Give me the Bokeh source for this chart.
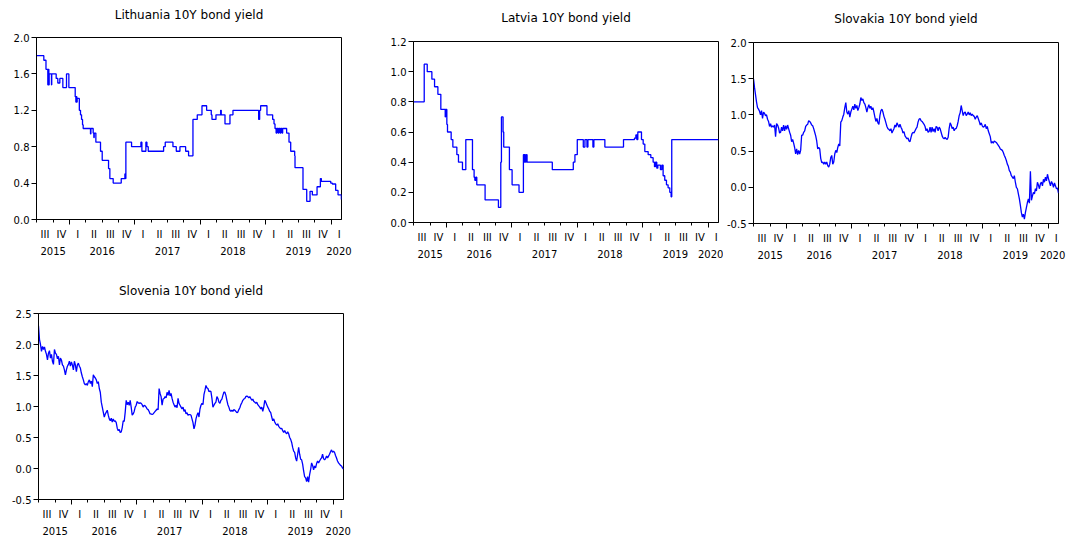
import numpy as np
from bokeh.plotting import figure
from bokeh.layouts import column, row
from bokeh.models import (FixedTicker, LinearAxis, Range1d, NumeralTickFormatter,
                          CustomJSTickFormatter)
from bokeh.embed import file_html
from bokeh.resources import INLINE

FONT = "DejaVu Sans"
X_START, X_END = 2015.495, 2020.16

# ---------------- data (decimal years / yields in %) ----------------
lt_t = [2015.495, 2015.607, 2015.640, 2015.668, 2015.673, 2015.684, 2015.689, 2015.724, 2015.728,
        2015.796, 2015.821, 2015.852, 2015.898, 2015.954, 2015.990, 2016.087, 2016.097, 2016.102,
        2016.112, 2016.117, 2016.150, 2016.168, 2016.184, 2016.199, 2016.209, 2016.321, 2016.327,
        2016.362, 2016.372, 2016.378, 2016.403, 2016.474, 2016.500, 2016.597, 2016.617, 2016.668,
        2016.791, 2016.847, 2016.857, 2016.862, 2016.949, 2017.092, 2017.107, 2017.168, 2017.184,
        2017.204, 2017.439, 2017.464, 2017.582, 2017.633, 2017.689, 2017.776, 2017.821, 2017.888,
        2017.954, 2018.026, 2018.097, 2018.168, 2018.179, 2018.240, 2018.311, 2018.321, 2018.378,
        2018.454, 2018.500, 2018.893, 2018.908, 2018.923, 2019.020, 2019.107, 2019.128, 2019.143,
        2019.160, 2019.170, 2019.190, 2019.200, 2019.220, 2019.230, 2019.250, 2019.260, 2019.321,
        2019.357, 2019.383, 2019.444, 2019.449, 2019.571, 2019.628, 2019.679, 2019.714, 2019.786,
        2019.837, 2019.852, 2019.995, 2020.020, 2020.071, 2020.107, 2020.158]
lt_v = [1.80, 1.75, 1.65, 1.48, 1.65, 1.48, 1.60, 1.48, 1.60,
        1.55, 1.50, 1.55, 1.45, 1.60, 1.45, 1.35, 1.29, 1.35,
        1.29, 1.33, 1.20, 1.15, 1.10, 1.04, 1.00, 0.94, 1.00,
        0.95, 0.90, 0.95, 0.85, 0.75, 0.65, 0.56, 0.45, 0.40,
        0.45, 0.50, 0.45, 0.85, 0.80, 0.85, 0.75, 0.85, 0.80,
        0.75, 0.80, 0.85, 0.80, 0.75, 0.80, 0.75, 0.70, 1.10,
        1.15, 1.25, 1.20, 1.15, 1.10, 1.15, 1.20, 1.15, 1.05,
        1.15, 1.20, 1.10, 1.20, 1.25, 1.15, 1.10, 1.05, 1.00,
        0.95, 1.00, 0.95, 1.00, 0.95, 1.00, 0.95, 1.00, 0.95,
        0.85, 0.75, 0.70, 0.57, 0.33, 0.20, 0.31, 0.27, 0.36,
        0.45, 0.42, 0.40, 0.39, 0.32, 0.27, 0.22]

lv_t = [2015.500, 2015.659, 2015.705, 2015.776, 2015.817, 2015.868, 2015.913, 2015.980, 2015.985,
        2016.005, 2016.015, 2016.071, 2016.097, 2016.158, 2016.183, 2016.244, 2016.295, 2016.397,
        2016.422, 2016.433, 2016.448, 2016.463, 2016.590, 2016.794, 2016.830, 2016.840, 2016.865,
        2016.875, 2016.962, 2017.003, 2017.109, 2017.176, 2017.186, 2017.196, 2017.206, 2017.221,
        2017.232, 2017.618, 2017.939, 2017.964, 2018.000, 2018.092, 2018.117, 2018.148, 2018.163,
        2018.239, 2018.254, 2018.422, 2018.707, 2018.875, 2018.896, 2018.911, 2018.926, 2018.982,
        2019.008, 2019.033, 2019.084, 2019.125, 2019.160, 2019.181, 2019.196, 2019.216, 2019.232,
        2019.257, 2019.272, 2019.293, 2019.313, 2019.338, 2019.364, 2019.389, 2019.415, 2019.435,
        2019.445, 2020.160]
lv_v = [0.80, 1.05, 1.00, 0.95, 0.90, 0.85, 0.75, 0.70, 0.75,
        0.65, 0.60, 0.55, 0.50, 0.45, 0.40, 0.35, 0.55, 0.35,
        0.30, 0.28, 0.30, 0.25, 0.15, 0.10, 0.40, 0.70, 0.60,
        0.50, 0.35, 0.25, 0.20, 0.45, 0.40, 0.45, 0.40, 0.45,
        0.40, 0.35, 0.40, 0.45, 0.55, 0.50, 0.55, 0.50, 0.55,
        0.50, 0.55, 0.50, 0.55, 0.56, 0.58, 0.55, 0.60, 0.55,
        0.52, 0.47, 0.45, 0.43, 0.40, 0.37, 0.40, 0.36, 0.38,
        0.38, 0.35, 0.38, 0.31, 0.28, 0.25, 0.23, 0.20, 0.17,
        0.55, 0.55]

# Slovakia: roughly weekly observations, Jul 2015 - Feb 2020
sk_v = [1.50, 1.38, 1.28, 1.18, 1.10, 1.08, 1.05, 1.00, 1.06, 0.95, 1.04, 1.02, 0.99, 1.00, 0.94,
        0.91, 0.84, 0.88, 0.83, 0.85, 0.83, 0.86, 0.70, 0.88, 0.86, 0.82, 0.75, 0.76, 0.83, 0.78,
        0.86, 0.78, 0.85, 0.80, 0.86, 0.81, 0.76, 0.72, 0.63, 0.66, 0.61, 0.55, 0.46, 0.53, 0.45,
        0.51, 0.46, 0.51, 0.72, 0.72, 0.76, 0.78, 0.84, 0.86, 0.87, 0.92, 0.91, 0.89, 0.86, 0.85,
        0.81, 0.76, 0.71, 0.64, 0.53, 0.55, 0.53, 0.40, 0.34, 0.35, 0.32, 0.35, 0.32, 0.35, 0.30,
        0.28, 0.32, 0.41, 0.44, 0.32, 0.35, 0.46, 0.51, 0.48, 0.55, 0.60, 0.57, 0.90, 0.92, 0.97,
        1.01, 1.10, 1.17, 1.04, 1.01, 1.06, 0.97, 1.04, 1.08, 1.12, 1.07, 1.15, 1.09, 1.13, 1.06,
        1.10, 1.15, 1.24, 1.20, 1.22, 1.17, 1.15, 1.10, 1.04, 1.10, 1.14, 1.09, 1.12, 1.07, 1.10,
        1.04, 0.97, 0.91, 0.95, 0.89, 0.87, 0.99, 1.06, 1.08, 1.04, 0.98, 0.94, 0.89, 0.84, 0.81,
        0.80, 0.78, 0.81, 0.75, 0.78, 0.81, 0.86, 0.83, 0.89, 0.86, 0.83, 0.87, 0.83, 0.80,
        0.75, 0.77, 0.71, 0.69, 0.67, 0.68, 0.64, 0.63, 0.69, 0.74, 0.76, 0.75, 0.78, 0.81, 0.83,
        0.90, 0.94, 0.95, 0.92, 0.91, 0.89, 0.87, 0.84, 0.78, 0.81, 0.76, 0.77, 0.83, 0.76, 0.83,
        0.77, 0.81, 0.76, 0.84, 0.83, 0.78, 0.83, 0.81, 0.76, 0.71, 0.68, 0.67, 0.69, 0.67, 0.66,
        0.69, 0.81, 0.89, 0.86, 0.81, 0.83, 0.78, 0.81, 0.81, 0.85, 0.91, 0.99, 1.03, 1.13, 1.06,
        0.99, 1.03, 1.04, 0.99, 1.01, 1.04, 1.00, 1.03, 0.99, 1.01, 0.99, 0.98, 0.94, 0.97, 0.99,
        0.95, 0.91, 0.86, 0.89, 0.85, 0.83, 0.84, 0.87, 0.81, 0.84, 0.78, 0.74, 0.70, 0.61, 0.63,
        0.61, 0.64, 0.63, 0.62, 0.60, 0.58, 0.56, 0.53, 0.52, 0.51, 0.48, 0.44, 0.41, 0.37, 0.32,
        0.29, 0.23, 0.21, 0.16, 0.14, 0.12, 0.16, 0.07, 0.00, -0.02, -0.09, -0.16, -0.25, -0.35,
        -0.41, -0.37, -0.44, -0.35, -0.28, -0.21, -0.16, -0.22, 0.22, -0.18, -0.12, -0.07, -0.09,
        -0.02, -0.05, 0.07, 0.03, -0.02, 0.05, 0.07, 0.02, 0.11, 0.07, 0.14, 0.09, 0.18, 0.12,
        0.07, 0.02, 0.08, 0.05, 0.00, 0.06, 0.02, -0.02, -0.01, -0.08]

# Slovenia: roughly weekly observations, Jul 2015 - Feb 2020
si_v = [2.30, 2.08, 2.00, 1.89, 1.97, 1.92, 1.96, 1.89, 1.84, 1.75, 1.86, 1.90, 1.78, 1.84, 1.73,
        1.68, 1.92, 1.86, 1.84, 1.77, 1.81, 1.67, 1.78, 1.75, 1.67, 1.65, 1.59, 1.51, 1.59, 1.65,
        1.68, 1.73, 1.65, 1.72, 1.67, 1.59, 1.73, 1.67, 1.56, 1.67, 1.70, 1.65, 1.62, 1.54, 1.48,
        1.43, 1.37, 1.35, 1.37, 1.34, 1.40, 1.43, 1.37, 1.41, 1.32, 1.51, 1.48, 1.46, 1.43, 1.37,
        1.40, 1.29, 1.23, 1.07, 0.99, 0.91, 0.83, 0.88, 0.91, 0.94, 0.86, 0.80, 0.77, 0.81, 0.75,
        0.80, 0.76, 0.77, 0.74, 0.65, 0.61, 0.63, 0.58, 0.59, 0.66, 0.77, 0.76, 0.91, 1.10, 1.03,
        1.07, 1.02, 1.10, 0.99, 0.86, 0.88, 0.92, 0.99, 1.02, 1.08, 1.06, 1.05, 1.06, 1.05, 1.03,
        0.99, 1.02, 1.01, 0.99, 0.96, 0.95, 0.92, 0.88, 0.88, 0.87, 0.88, 0.90, 0.92, 0.94, 0.96,
        0.95, 1.29, 1.21, 1.16, 1.02, 1.12, 1.13, 1.16, 1.14, 1.23, 1.18, 1.26, 1.17, 1.21, 1.13,
        1.07, 1.03, 0.99, 1.02, 0.98, 1.13, 1.05, 1.02, 0.99, 0.96, 0.99, 0.92, 0.95, 0.88, 0.90,
        0.86, 0.87,
        0.87, 0.86, 0.80, 0.74, 0.64, 0.70, 0.80, 0.86, 0.90, 0.83, 0.96, 1.02, 1.05, 1.03, 1.19,
        1.26, 1.34, 1.30, 1.29, 1.24, 1.25, 1.24, 1.13, 0.99, 1.02, 1.05, 1.07, 1.16, 1.13, 1.07,
        1.05, 1.10, 1.12, 1.18, 1.23, 1.23, 1.18, 1.10, 1.03, 0.99, 0.94, 0.92, 0.94, 0.92, 0.95,
        0.94, 0.92, 0.90, 0.91, 0.95, 0.98, 1.03, 1.06, 1.10, 1.12, 1.13, 1.16, 1.17, 1.16, 1.14,
        1.16, 1.13, 1.10, 1.12, 1.08, 1.07, 1.05, 1.07, 1.03, 1.01, 0.99, 0.96, 0.99, 0.92, 0.99,
        1.10, 1.07, 1.03, 0.99, 0.96, 0.92, 0.90, 0.83, 0.77, 0.80, 0.75, 0.72, 0.70, 0.72, 0.68,
        0.66, 0.64, 0.65, 0.61, 0.58, 0.61, 0.58, 0.56, 0.59, 0.56, 0.50, 0.47, 0.42, 0.34, 0.28,
        0.26, 0.17, 0.12, 0.23, 0.34, 0.23, 0.15, 0.14, 0.07, -0.04, -0.13, -0.15, -0.21, -0.13,
        -0.22, -0.10, -0.02, 0.09, 0.05, -0.02, 0.04, 0.01, 0.08, 0.12, 0.09, 0.12, 0.15, 0.17,
        0.23, 0.16, 0.14, 0.16, 0.20, 0.17, 0.20, 0.23, 0.27, 0.30, 0.26, 0.28, 0.26, 0.21, 0.17,
        0.12, 0.09, 0.07, 0.05, 0.04, 0.01, -0.01]

quarter_names = ["III", "IV"] + ["I", "II", "III", "IV"] * 4 + ["I"]
year_names = ["2015", "2016", "2017", "2018", "2019", "2020"]

# ---------------- axis helpers ----------------
quarter_bounds = [2015.5, 2015.75] + [y + q for y in range(2016, 2020) for q in (0.0, 0.25, 0.5, 0.75)] + [2020.0]
quarter_mids = [b + 0.125 for b in quarter_bounds]
year_bounds = [2016, 2017, 2018, 2019, 2020]

LOOKUP = """
let best = 0; let d = Infinity;
for (let i = 0; i < pos.length; i++) { const dd = Math.abs(pos[i] - tick); if (dd < d) { d = dd; best = i; } }
return names[best];
"""


def bare_axis(**kw):
    return LinearAxis(major_tick_out=0, major_tick_in=0, minor_tick_out=0, minor_tick_in=0,
                      axis_line_color=None, major_tick_line_color=None, minor_tick_line_color=None,
                      **kw)


def add_x_axes(p, year_pos, s1, s2):
    ax_t = LinearAxis(ticker=FixedTicker(ticks=year_bounds, minor_ticks=quarter_bounds),
                      formatter=CustomJSTickFormatter(code="return '';"),
                      major_tick_out=5, major_tick_in=0, minor_tick_out=3, minor_tick_in=0,
                      major_label_text_font_size="0px", major_label_standoff=0,
                      axis_line_color="black", major_tick_line_color="black",
                      minor_tick_line_color="black")
    p.add_layout(ax_t, "below")
    ax_q = bare_axis(ticker=FixedTicker(ticks=quarter_mids, minor_ticks=[]),
                     formatter=CustomJSTickFormatter(args=dict(pos=quarter_mids, names=quarter_names), code=LOOKUP),
                     major_label_standoff=s1, major_label_text_font=FONT,
                     major_label_text_font_size="10px", major_label_text_color="black")
    p.add_layout(ax_q, "below")
    ax_y = bare_axis(ticker=FixedTicker(ticks=year_pos, minor_ticks=[]),
                     formatter=CustomJSTickFormatter(args=dict(pos=year_pos, names=year_names), code=LOOKUP),
                     major_label_standoff=s2, major_label_text_font=FONT,
                     major_label_text_font_size="10px", major_label_text_color="black")
    p.add_layout(ax_y, "below")


def panel(title, y_range, y_ticks, fw, fh, bl, br, bt, bb, last_year_pos, title_gap, s1=4, s2=4):
    p = figure(frame_width=fw, frame_height=fh,
               x_range=Range1d(X_START, X_END), y_range=Range1d(*y_range),
               output_backend="svg", toolbar_location=None, x_axis_location=None,
               min_border_left=bl, min_border_right=br, min_border_top=bt, min_border_bottom=bb)
    p.outline_line_color = "black"
    p.outline_line_width = 1
    p.outline_line_alpha = 1
    p.background_fill_color = "white"
    p.border_fill_color = "white"
    p.grid.visible = False
    ya = p.yaxis[0]
    ya.ticker = FixedTicker(ticks=y_ticks, minor_ticks=[])
    ya.formatter = NumeralTickFormatter(format="0.0")
    ya.major_tick_out = 5
    ya.major_tick_in = 0
    ya.minor_tick_out = 0
    ya.minor_tick_in = 0
    ya.major_label_standoff = 2
    ya.major_label_text_font = FONT
    ya.major_label_text_font_size = "10px"
    ya.major_label_text_color = "black"
    ya.axis_line_color = "black"
    ya.major_tick_line_color = "black"
    year_pos = [2015.75, 2016.5, 2017.5, 2018.5, 2019.5, last_year_pos]
    add_x_axes(p, year_pos, s1, s2)
    # chart title: label of an empty axis above the frame
    t_ax = bare_axis(ticker=FixedTicker(ticks=[], minor_ticks=[]),
                     major_label_standoff=0, major_label_text_font_size="0px",
                     axis_label=title, axis_label_standoff=title_gap,
                     axis_label_text_font=FONT, axis_label_text_font_size="12px",
                     axis_label_text_font_style="normal", axis_label_text_color="black")
    p.add_layout(t_ax, "above")
    return p


BLUE = "#0000FF"
LW = 1.3

p1 = panel("Lithuania 10Y bond yield", (0.0, 2.0), [0.0, 0.4, 0.8, 1.2, 1.6, 2.0],
           305, 182, 36, 31, 37, 43, 2020.12, 16)
p1.step(lt_t, lt_v, mode="after", line_color=BLUE, line_width=LW)

p2 = panel("Latvia 10Y bond yield", (0.0, 1.2), [0.0, 0.2, 0.4, 0.6, 0.8, 1.0, 1.2],
           305, 181, 41, 5, 41, 40, 2020.04, 17)
p2.step(lv_t, lv_v, mode="after", line_color=BLUE, line_width=LW)

p3 = panel("Slovakia 10Y bond yield", (-0.5, 2.0), [-0.5, 0.0, 0.5, 1.0, 1.5, 2.0],
           305, 181, 25, 8, 42, 39, 2020.07, 17)
sk_t = np.linspace(X_START, X_END, len(sk_v))
p3.line(sk_t, sk_v, line_color=BLUE, line_width=LW)

p4 = panel("Slovenia 10Y bond yield", (-0.5, 2.5), [-0.5, 0.0, 0.5, 1.0, 1.5, 2.0, 2.5],
           305, 186, 38, 10, 51, 39, 2020.08, 16)
si_t = np.linspace(X_START, X_END, len(si_v))
p4.line(si_t, si_v, line_color=BLUE, line_width=LW)

layout = column(row(column(p1), column(p2), column(p3)), p4)

open("out.html", "w").write(file_html(layout, INLINE))
